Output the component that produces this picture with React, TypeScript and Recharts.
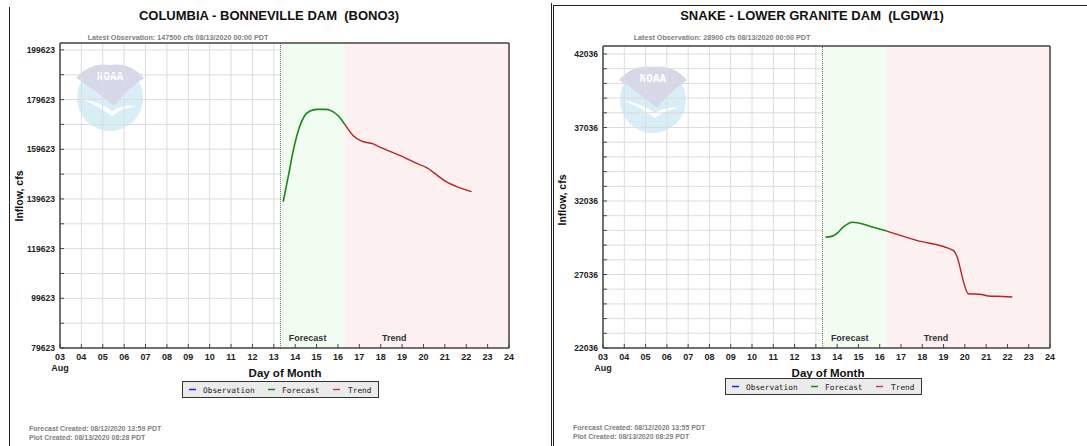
import React from 'react';
import { LineChart, Line, XAxis, YAxis, CartesianGrid, ReferenceArea, ReferenceLine } from 'recharts';

// ---------- data ----------
const dayTicks = [3, 4, 5, 6, 7, 8, 9, 10, 11, 12, 13, 14, 15, 16, 17, 18, 19, 20, 21, 22, 23, 24];

// Columbia - Bonneville Dam (BONO3)
const bonoYTicks = [79623, 89623, 99623, 109623, 119623, 129623, 139623, 149623, 159623, 169623, 179623, 189623, 199623];
const bonoYLabels = [79623, 99623, 119623, 139623, 159623, 179623, 199623];
const bonoForecastDays = [13.44, 13.68, 13.94, 14.19, 14.43, 14.69, 15.0, 15.47, 15.78, 16.02, 16.33];
const bonoForecastFlow = [138500, 148900, 160300, 168300, 173000, 175000, 175700, 175700, 174700, 173000, 169500];
const bonoTrendDays = [16.33, 16.69, 17.11, 17.65, 18.04, 19.05, 19.6, 20.15, 20.62, 21.0, 21.55, 22.02, 22.25];
const bonoTrendFlow = [169500, 165300, 162900, 161800, 160200, 156600, 154200, 152200, 149300, 146900, 144600, 143200, 142600];

// Snake - Lower Granite Dam (LGDW1)
const lgdwYTicks = [22036, 23036, 24036, 25036, 26036, 27036, 28036, 29036, 30036, 31036, 32036, 33036, 34036, 35036, 36036, 37036, 38036, 39036, 40036, 41036, 42036];
const lgdwYLabels = [22036, 27036, 32036, 37036, 42036];
const lgdwForecastDays = [13.46, 13.74, 13.98, 14.29, 14.73, 14.99, 15.6, 16.33];
const lgdwForecastFlow = [29580, 29630, 29820, 30270, 30590, 30540, 30290, 29990];
const lgdwTrendDays = [16.33, 17.73, 19.45, 19.64, 19.77, 19.92, 20.16, 20.79, 21.1, 21.8, 22.23];
const lgdwTrendFlow = [29990, 29360, 28680, 28220, 27540, 26630, 25730, 25680, 25570, 25540, 25500];

const obsTime = 13.31;
const forecastStart = 13.33;
const trendStart = 16.33;

const FONT = '"Liberation Sans", Arial, sans-serif';
const MONO = '"DejaVu Sans Mono", "Liberation Mono", monospace';

const toRows = (days: number[], flow: number[]) => days.map((d, i) => ({ day: d, flow: flow[i] }));

const AreaLabel = (props: any) => {
  const { viewBox, text, dx } = props;
  if (!viewBox) return null;
  return (
    <text x={viewBox.x + dx} y={viewBox.y + viewBox.height - 7} fontSize={9} fontWeight="bold" fill="#333" fontFamily={FONT}>
      {text}
    </text>
  );
};

const NoaaLogo = ({ cx, cy }: { cx: number; cy: number }) => (
  <g>
    <circle cx={cx} cy={cy} r={33} fill="#d7eef7" />
    <path
      d={`M ${cx - 34} ${cy - 20} Q ${cx - 20} ${cy - 36} ${cx} ${cy - 33} Q ${cx + 20} ${cy - 36} ${cx + 34} ${cy - 20} Q ${cx + 14} ${cy - 6} ${cx + 4} ${cy + 8} Q ${cx - 12} ${cy - 6} ${cx - 34} ${cy - 20} Z`}
      fill="#d6d8ea"
    />
    <path
      d={`M ${cx - 30} ${cy} Q ${cx - 10} ${cy + 4} ${cx + 2} ${cy + 13} Q ${cx + 14} ${cy + 6} ${cx + 26} ${cy + 8} Q ${cx + 12} ${cy + 10} ${cx + 2} ${cy + 18} Q ${cx - 12} ${cy + 8} ${cx - 30} ${cy} Z`}
      fill="#ffffff"
    />
    <text x={cx} y={cy - 18} textAnchor="middle" fontSize={11} fontWeight="bold" fill="#ffffff" fontFamily={MONO}>
      NOAA
    </text>
  </g>
);

type PanelProps = {
  left: number;
  width: number;
  title: string;
  titleX: number;
  subtitle: string;
  subtitleX: number;
  plotTop: number;
  plotLeft: number;
  plotRight: number;
  yMin: number;
  yMax: number;
  yTicks: number[];
  yLabels: number[];
  forecast: { day: number; flow: number }[];
  trend: { day: number; flow: number }[];
  logo: [number, number];
  yLabelY: number;
  dayLabelX: number;
  legendX: number;
  legendY: number;
  footer1: string;
  footer2: string;
  footerX: number;
  footerY: number;
  borders: React.ReactNode;
};

const Panel = (p: PanelProps) => {
  const H = 446;
  const plotBottom = 348;
  const yAxisWidth = 48;
  const xAxisHeight = 20;
  const localPlotLeft = p.plotLeft - p.left;
  const localPlotRight = p.plotRight - p.left;
  const margin = {
    top: p.plotTop,
    right: p.width - localPlotRight,
    left: localPlotLeft - yAxisWidth,
    bottom: H - plotBottom - xAxisHeight,
  };
  const lx = p.legendX - p.left;
  const axisColor = '#444';
  return (
    <div style={{ position: 'absolute', left: p.left, top: 0, width: p.width, height: H }}>
      <svg width={p.width} height={H} style={{ position: 'absolute', left: 0, top: 0 }}>
        <NoaaLogo cx={p.logo[0] - p.left} cy={p.logo[1]} />
      </svg>
      <div style={{ position: 'absolute', left: 0, top: 0 }}>
        <LineChart width={p.width} height={H} margin={margin}>
          <ReferenceArea x1={forecastStart} x2={trendStart} y1={p.yMin} y2={p.yMax} fill="#f1fdf1" fillOpacity={1} stroke="none" ifOverflow="hidden"
            label={<AreaLabel text="Forecast" dx={8} />} />
          <ReferenceArea x1={trendStart} x2={24} y1={p.yMin} y2={p.yMax} fill="#fdf0f0" fillOpacity={1} stroke="none" ifOverflow="hidden"
            label={<AreaLabel text="Trend" dx={37} />} />
          <CartesianGrid stroke="#dcdcdc" strokeWidth={1} />
          <XAxis
            dataKey="day"
            type="number"
            domain={[3, 24]}
            ticks={dayTicks}
            interval={0}
            allowDataOverflow
            tickFormatter={(v: number) => String(v).padStart(2, '0')}
            tick={{ fontSize: 9, fontWeight: 'bold', fill: '#222', fontFamily: FONT }}
            tickSize={-4}
            tickMargin={10}
            tickLine={{ stroke: axisColor }}
            axisLine={{ stroke: axisColor, strokeWidth: 1.5 }}
            height={xAxisHeight}
          />
          <YAxis
            type="number"
            domain={[p.yMin, p.yMax]}
            ticks={p.yTicks}
            interval={0}
            allowDataOverflow
            tickFormatter={(v: number) => (p.yLabels.includes(v) ? String(v) : '')}
            tick={{ fontSize: 8.5, fontWeight: 'bold', fill: '#222', fontFamily: FONT }}
            tickSize={-4}
            tickMargin={9}
            tickLine={{ stroke: axisColor }}
            axisLine={{ stroke: axisColor, strokeWidth: 1.5 }}
            width={yAxisWidth}
          />
          <ReferenceLine x={obsTime} stroke="#666" strokeDasharray="1 1" strokeWidth={1} />
          <ReferenceLine y={p.yMax} stroke={axisColor} strokeWidth={1.5} />
          <ReferenceLine x={24} stroke={axisColor} strokeWidth={1.5} />
          <Line data={p.forecast} dataKey="flow" type="monotone" stroke="#138a13" strokeWidth={1.6} dot={false} isAnimationActive={false} name="Forecast" />
          <Line data={p.trend} dataKey="flow" type="monotone" stroke="#b82323" strokeWidth={1.4} dot={false} isAnimationActive={false} name="Trend" />
        </LineChart>
      </div>
      <svg width={p.width} height={H} style={{ position: 'absolute', left: 0, top: 0, pointerEvents: 'none' }} fontFamily={FONT}>
        {p.borders}
        <text x={p.titleX - p.left} y={20} textAnchor="middle" fontSize={13} fontWeight="bold" fill="#111" style={{ whiteSpace: 'pre' }}>{p.title}</text>
        <text x={p.subtitleX - p.left} y={40} textAnchor="middle" fontSize={7.2} fontWeight="bold" fill="#808080">{p.subtitle}</text>
        <text transform={`translate(${localPlotLeft - 37}, ${p.yLabelY}) rotate(-90)`} textAnchor="middle" fontSize={10.5} fontWeight="bold" fill="#111">Inflow, cfs</text>
        <text x={localPlotLeft} y={371} textAnchor="middle" fontSize={9} fontWeight="bold" fill="#222">Aug</text>
        <text x={p.dayLabelX - p.left} y={377} textAnchor="middle" fontSize={11.5} fontWeight="bold" fill="#111">Day of Month</text>
        <rect x={lx + 0.5} y={p.legendY + 0.5} width={196} height={16} fill="#ebebeb" stroke="#333" strokeWidth={1} />
        <line x1={lx + 7} x2={lx + 14} y1={p.legendY + 8.5} y2={p.legendY + 8.5} stroke="#1f1fff" strokeWidth={1.5} />
        <text x={lx + 21} y={p.legendY + 11.5} fontSize={7.8} fontFamily={MONO} fill="#222">Observation</text>
        <line x1={lx + 86} x2={lx + 93} y1={p.legendY + 8.5} y2={p.legendY + 8.5} stroke="#138a13" strokeWidth={1.5} />
        <text x={lx + 100} y={p.legendY + 11.5} fontSize={7.8} fontFamily={MONO} fill="#222">Forecast</text>
        <line x1={lx + 151} x2={lx + 158} y1={p.legendY + 8.5} y2={p.legendY + 8.5} stroke="#d04040" strokeWidth={1.5} />
        <text x={lx + 166} y={p.legendY + 11.5} fontSize={7.8} fontFamily={MONO} fill="#222">Trend</text>
        <text x={p.footerX - p.left} y={p.footerY} fontSize={7} fontWeight="bold" fill="#808080">{p.footer1}</text>
        <text x={p.footerX - p.left} y={p.footerY + 9} fontSize={7} fontWeight="bold" fill="#808080">{p.footer2}</text>
      </svg>
    </div>
  );
};

export default function App() {
  return (
    <div style={{ position: 'absolute', left: 0, top: 0, width: 1087, height: 446, background: '#ffffff', overflow: 'hidden' }}>
      <Panel
        left={0}
        width={545}
        title="COLUMBIA - BONNEVILLE DAM  (BONO3)"
        titleX={269}
        subtitle="Latest Observation: 147500 cfs 08/13/2020 00:00 PDT"
        subtitleX={178}
        plotTop={43}
        plotLeft={60}
        plotRight={509}
        yMin={79623}
        yMax={202400}
        yTicks={bonoYTicks}
        yLabels={bonoYLabels}
        forecast={toRows(bonoForecastDays, bonoForecastFlow)}
        trend={toRows(bonoTrendDays, bonoTrendFlow)}
        logo={[110, 98]}
        yLabelY={196}
        dayLabelX={285}
        legendX={182}
        legendY={381}
        footer1="Forecast Created: 08/12/2020 13:59 PDT"
        footer2="Plot Created: 08/13/2020 08:28 PDT"
        footerX={29}
        footerY={431}
        borders={<line x1={9.5} x2={9.5} y1={7} y2={446} stroke="#222" strokeWidth={1} />}
      />
      <Panel
        left={545}
        width={542}
        title="SNAKE - LOWER GRANITE DAM  (LGDW1)"
        titleX={812}
        subtitle="Latest Observation: 28900 cfs 08/13/2020 00:00 PDT"
        subtitleX={722}
        plotTop={46}
        plotLeft={603}
        plotRight={1050}
        yMin={22036}
        yMax={42580}
        yTicks={lgdwYTicks}
        yLabels={lgdwYLabels}
        forecast={toRows(lgdwForecastDays, lgdwForecastFlow)}
        trend={toRows(lgdwTrendDays, lgdwTrendFlow)}
        logo={[653, 100]}
        yLabelY={200}
        dayLabelX={828}
        legendX={725}
        legendY={378}
        footer1="Forecast Created: 08/12/2020 13:55 PDT"
        footer2="Plot Created: 08/13/2020 08:29 PDT"
        footerX={573}
        footerY={430}
        borders={
          <g stroke="#222" strokeWidth={1}>
            <line x1={6.5} x2={6.5} y1={3} y2={446} />
            <line x1={8.5} x2={8.5} y1={5} y2={446} />
            <line x1={8} x2={542} y1={5.5} y2={5.5} />
          </g>
        }
      />
    </div>
  );
}
